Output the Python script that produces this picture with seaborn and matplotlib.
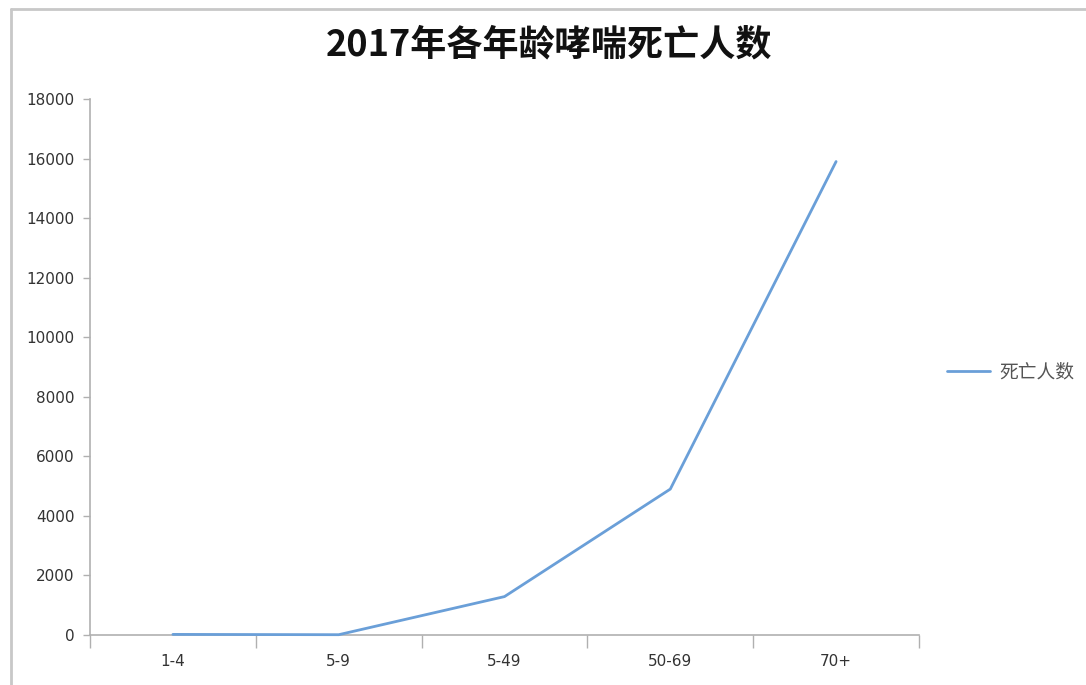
import matplotlib
matplotlib.use("Agg")
import matplotlib.pyplot as plt
from matplotlib.lines import Line2D
import seaborn as sns
import pandas as pd

categories = ["1-4", "5-9", "5-49", "50-69", "70+"]
deaths = [20, 10, 1290, 4900, 15900]
y_ticks = [0, 2000, 4000, 6000, 8000, 10000, 12000, 14000, 16000, 18000]
title = "2017年各年龄哮喘死亡人数"
series_name = "死亡人数"

sns.set_theme(style="white")
plt.rcParams['font.family'] = ['Noto Sans CJK SC', 'DejaVu Sans']

df = pd.DataFrame({"age": categories, "deaths": deaths, "x": range(len(categories))})

fig = plt.figure(figsize=(10.86, 6.85), dpi=100)
ax = fig.add_axes([90/1086, 50/685, (919-90)/1086, (635-99)/685])

sns.lineplot(data=df, x="x", y="deaths", ax=ax, color="#6a9fd8", linewidth=2.0,
             label=series_name, zorder=3, clip_on=False)

num_font = dict(family="DejaVu Sans", size=11)

ax.set_xlim(-0.5, len(categories) - 0.5)
ax.set_ylim(0, 18000)
ax.set_yticks(y_ticks)
ax.set_yticklabels([str(v) for v in y_ticks], fontdict=num_font)
ax.set_xticks([i - 0.5 for i in range(len(categories) + 1)])
ax.set_xticklabels([""] * (len(categories) + 1))
ax.set_xticks(list(range(len(categories))), minor=True)
ax.set_xticklabels(categories, minor=True, fontdict=num_font)
ax.tick_params(axis="x", which="major", direction="out", length=9, width=1, color="#b0b0b0", bottom=True)
ax.tick_params(axis="x", which="minor", length=0, pad=14, labelcolor="#333333")
ax.tick_params(axis="y", direction="out", length=5, width=1, color="#b0b0b0", left=True,
               labelcolor="#333333", pad=6)
ax.set_xlabel("")
ax.set_ylabel("")
for s in ["top", "right"]:
    ax.spines[s].set_visible(False)
for s in ["left", "bottom"]:
    ax.spines[s].set_color("#b0b0b0")
    ax.spines[s].set_linewidth(1.2)

leg = ax.legend(loc="center left", bbox_to_anchor=(1.013, 0.49), frameon=False,
                fontsize=13.5, handlelength=2.3, handletextpad=0.5)
for t in leg.get_texts():
    t.set_color("#555555")

fig.text(0.506, 1 - 45/685, title, ha="center", va="center", fontsize=26,
         fontweight="bold", color="#111111")

fig.add_artist(Line2D([11/1086, 11/1086], [0, 1 - 9/685], transform=fig.transFigure,
                      color="#c8c8c8", linewidth=2))
fig.add_artist(Line2D([11/1086, 1], [1 - 9/685, 1 - 9/685], transform=fig.transFigure,
                      color="#c8c8c8", linewidth=2))

fig.savefig("out.png", dpi=100)
